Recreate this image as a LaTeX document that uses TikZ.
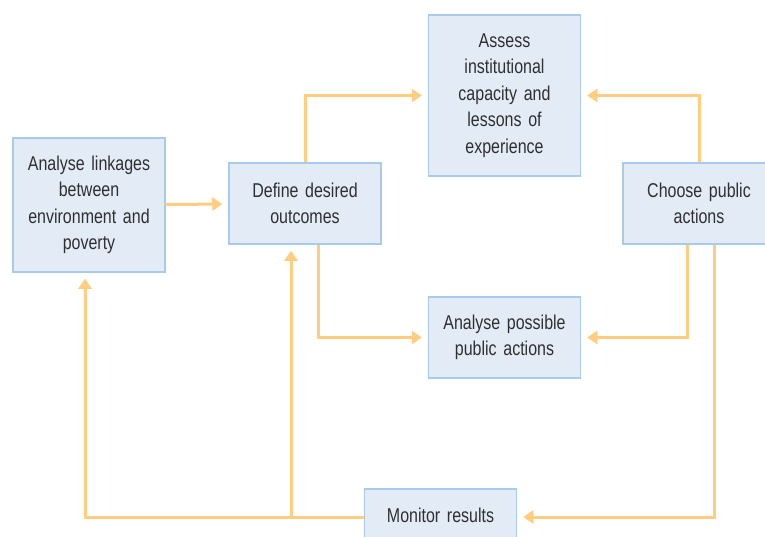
\documentclass[tikz,border=0pt]{standalone}
\usepackage{fontspec}
\setmainfont[FakeStretch=0.8]{Liberation Sans}
\usetikzlibrary{arrows.meta}

\definecolor{boxfill}{HTML}{E3EBF6}
\definecolor{boxline}{HTML}{A9CBEB}
\definecolor{flowline}{HTML}{FFCC80}
\definecolor{boxtext}{HTML}{303030}

\tikzset{
    stepbox/.style={draw=boxline, line width=1.5pt, fill=boxfill, text=boxtext,
        align=center, text width=140pt, minimum width=152pt, minimum height=81pt,
        inner sep=0pt, font=\fontsize{20}{26.5}\selectfont},
    flow/.style={draw=flowline, line width=3pt, shorten >=6pt,
        -{Triangle[width=13pt,length=10pt]}}
}

\begin{document}
\begin{tikzpicture}[x=1pt, y=-1pt]

            % the frame
            \useasboundingbox (0, 0) rectangle (765, 537);

            % the boxes
            \node[stepbox, minimum height=134pt] (linkages) at (89, 205) {Analyse linkages\\ between\\ environment and\\ poverty};
            \node[stepbox] (define) at (305, 203.5) {Define desired\\ outcomes};
            \node[stepbox, minimum height=161pt] (assess) at (504.5, 95.5) {Assess\\ institutional\\ capacity and\\ lessons of\\ experience};
            \node[stepbox] (choose) at (699, 203.5) {Choose public\\ actions};
            \node[stepbox] (possible) at (504.5, 337.5) {Analyse possible\\ public actions};
            \node[stepbox, minimum height=52pt] (monitor) at (440.5, 515) {Monitor results};

            % the flows
            \draw[flow] (linkages) -- (define);
            \draw[flow] (define.north) |- (assess.west);
            \draw[flow] (choose.north) |- (assess.east);
            \draw[flow] ([xshift=13pt]define.south) |- (possible.west);
            \draw[flow] ([xshift=-12pt]choose.south) |- (possible.east);
            \draw[flow] ([xshift=15pt]choose.south) |- ([yshift=-2pt]monitor.east);

            % back to the start
            \coordinate (split) at ([xshift=-14pt]define.south |- monitor.west);
            \draw[flow] ([yshift=-2pt]monitor.west) -| ([xshift=-4pt]linkages.south);
            \draw[flow] ([yshift=-2pt]split) -- ([xshift=-14pt]define.south);
        \end{tikzpicture}
\end{document}
